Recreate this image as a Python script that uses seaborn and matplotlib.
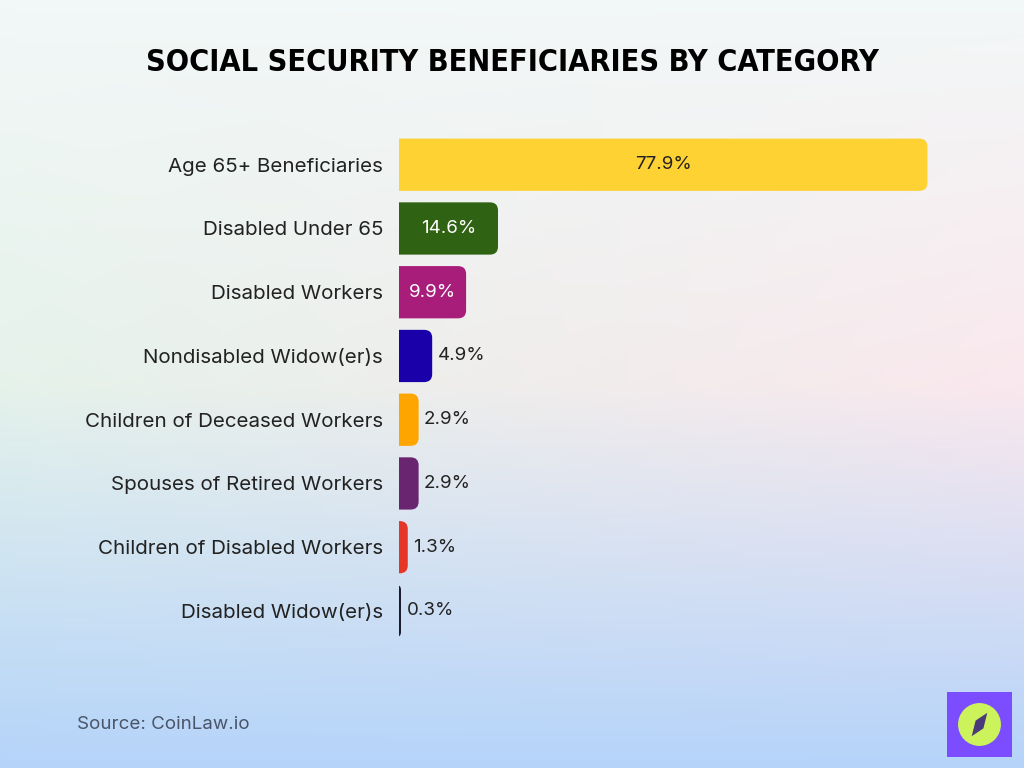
import numpy as np
import pandas as pd
import seaborn as sns
import matplotlib.pyplot as plt
from matplotlib.patches import FancyBboxPatch, Rectangle, Circle, Polygon

sns.set_theme(style="white")
plt.rcParams['font.family'] = ['Inter', 'DejaVu Sans']

# Data
categories = ['Age 65+ Beneficiaries', 'Disabled Under 65', 'Disabled Workers',
              'Nondisabled Widow(er)s', 'Children of Deceased Workers',
              'Spouses of Retired Workers', 'Children of Disabled Workers',
              'Disabled Widow(er)s']
shares = [77.9, 14.6, 9.9, 4.9, 2.9, 2.9, 1.3, 0.3]
bar_colors = ['#FFD234', '#2F6212', '#A91D7A', '#1A00A8',
              '#FFA500', '#6A2570', '#E53628', '#1A1A2E']

df = pd.DataFrame({'category': categories, 'share': shares})

fig = plt.figure(figsize=(10.24, 7.68), dpi=100)

# background gradient
bg = fig.add_axes([0, 0, 1, 1], zorder=-10)
h, w = 200, 260
yy, xx = np.mgrid[0:1:h * 1j, 0:1:w * 1j]
top = np.array([0.95, 0.97, 0.97])
mint = np.array([0.90, 0.95, 0.92])
pink = np.array([0.98, 0.91, 0.93])
bottom = np.array([0.71, 0.83, 0.98])
mid = mint[None, None, :] * (1 - xx[..., None]) + pink[None, None, :] * xx[..., None]
t1 = np.clip(yy / 0.5, 0, 1)[..., None]
t2 = np.clip((yy - 0.5) / 0.5, 0, 1)[..., None]
img = np.where(yy[..., None] < 0.5, top * (1 - t1) + mid * t1, mid * (1 - t2) + bottom * t2)
bg.imshow(np.clip(img, 0, 1), aspect='auto', extent=[0, 1, 1, 0])
bg.axis('off')

ax = fig.add_axes([0.3896, 0.163, 0.53, 0.664])
ax.patch.set_alpha(0)
sns.barplot(data=df, x='share', y='category', hue='category', palette=bar_colors,
            legend=False, width=0.82, ax=ax, saturation=1)
ax.set_xlim(0, 80)
ax.set_ylim(7.5, -0.5)

# rounded right ends (left end pushed past the axis edge and clipped)
rx = 1.2
aspect = 0.125 / 1.2
for p, c in zip(list(ax.patches), bar_colors):
    x0, y0, bw, bh = p.get_x(), p.get_y(), p.get_width(), p.get_height()
    p.set_visible(False)
    r = min(rx, (bw + rx) / 2)
    ax.add_patch(FancyBboxPatch((x0 - rx, y0), bw + rx, bh,
                                boxstyle=f"round,pad=0,rounding_size={r}",
                                mutation_aspect=aspect, fc=c, ec='none', zorder=2))

for i, v in enumerate(shares):
    if v > 50:
        ax.text(v / 2, i, f'{v}%', ha='center', va='center', fontsize=13.5, color='#222222')
    elif v > 8:
        ax.text(v / 2, i, f'{v}%', ha='center', va='center', fontsize=13.5, color='white')
    else:
        ax.text(v + 0.8, i, f'{v}%', ha='left', va='center', fontsize=13.5, color='#222222')

ax.set_xlabel('')
ax.set_ylabel('')
ax.set_xticks([])
ax.tick_params(axis='y', length=0, pad=11.5, labelsize=14.8, labelcolor='#222222')
for s in ax.spines.values():
    s.set_visible(False)

fig.text(0.5, 0.919, 'SOCIAL SECURITY BENEFICIARIES BY CATEGORY', ha='center', va='center',
         fontsize=22, fontweight='bold', fontstretch='condensed',
         family=['DejaVu Sans'], color='black')

fig.text(0.075, 0.057, 'Source: CoinLaw.io', ha='left', va='center',
         fontsize=13.5, color='#4A5568')

# logo
la = fig.add_axes([947 / 1024, 11 / 768, 65 / 1024, 65 / 768])
la.set_xlim(0, 1)
la.set_ylim(0, 1)
la.add_patch(Rectangle((0, 0), 1, 1, fc='#7B4DFF', ec='none'))
la.add_patch(Circle((0.5, 0.5), 0.33, fc='#CCF35C', ec='none'))
la.add_patch(Polygon([(0.62, 0.68), (0.56, 0.44), (0.38, 0.32), (0.44, 0.56)],
                     closed=True, fc='#4A3A7A', ec='none'))
la.axis('off')

fig.savefig('out.png', dpi=100)
